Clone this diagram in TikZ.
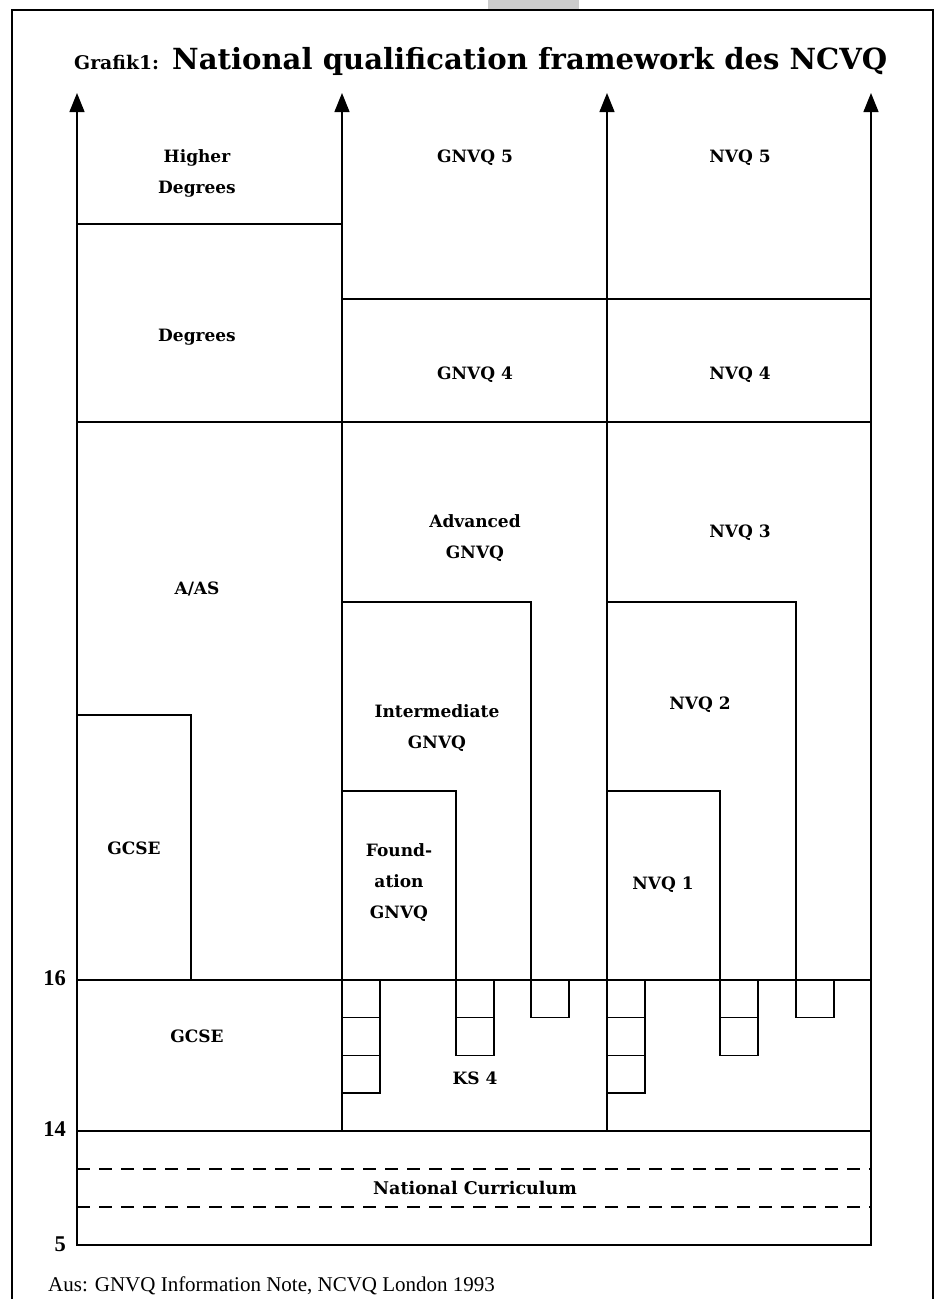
\documentclass[tikz,border=0pt]{standalone}
\usepackage{fontspec}
\setmainfont{Liberation Serif}
\newfontfamily\lblfont{DejaVu Serif}
\usetikzlibrary{arrows.meta}
\tikzset{
  ln/.style={line width=1.3pt, line cap=rect},
  thickline/.style={line width=2.2pt},
  axis/.style={line width=1.3pt, -{Triangle[length=19pt,width=15pt]}},
  dashline/.style={line width=1.3pt, dash pattern=on 13pt off 9pt},
  lbl/.style={font=\lblfont\fontsize{17}{31}\selectfont\bfseries, align=center, inner sep=0pt},
  num/.style={font=\fontsize{22.5}{25}\selectfont\bfseries, anchor=east, inner sep=0pt},
  sq/.style={line width=1.3pt}
}
\begin{document}
\begin{tikzpicture}[x=1pt,y=-1pt]
\useasboundingbox (0,0) rectangle (939,1299);
% frame and tab
\fill[black!20] (488,0) rectangle (579,9.5);
\draw[line width=1.5pt] (12,1299) -- (12,10) -- (933,10) -- (933,1299);
% title
\node[inner sep=0pt, anchor=base west] (tpre) at (74,69)
  {\lblfont\bfseries\fontsize{18.8}{22}\selectfont Grafik1:};
\node[inner sep=0pt, anchor=base west] (title) at (172,69)
  {\lblfont\bfseries\fontsize{29.1}{33}\selectfont National qualification framework des NCVQ};
% coordinates
\coordinate (a1b) at (77,1245);  \coordinate (a1t) at (77,93);
\coordinate (a2b) at (342,1131); \coordinate (a2t) at (342,93);
\coordinate (a3b) at (607,1131); \coordinate (a3t) at (607,93);
\coordinate (a4b) at (871,1245); \coordinate (a4t) at (871,93);
\draw[axis] (a1b) -- (a1t);
\draw[axis] (a2b) -- (a2t);
\draw[axis] (a3b) -- (a3t);
\draw[axis] (a4b) -- (a4t);
% horizontal divisions
\draw[ln] (77,224) -- (342,224);
\draw[ln] (342,299) -- (871,299);
\draw[ln] (77,422) -- (871,422);
\draw[ln] (342,602) -- (531,602) -- (531,980);
\draw[ln] (607,602) -- (796,602) -- (796,980);
\draw[ln] (77,715) -- (191,715) -- (191,980);
\draw[ln] (342,791) -- (456,791) -- (456,980);
\draw[ln] (607,791) -- (720,791) -- (720,980);
\draw[thickline] (77,980) -- (871,980);
\draw[ln] (77,1131) -- (871,1131);
\draw[dashline] (77,1169) -- (871,1169);
\draw[dashline] (77,1207) -- (871,1207);
\draw[ln] (77,1245) -- (871,1245);
% small squares
\foreach \x/\n in {342/3,456/2,531/1,607/3,720/2,796/1}{
  \foreach \i in {1,...,\n}{
    \draw[sq] (\x,{980+37.7*(\i-1)}) rectangle ({\x+38},{980+37.7*\i});
  }
}
% labels
\node[lbl] (hd) at (197,173) {Higher\\Degrees};
\node[lbl] (g5) at (475,158) {GNVQ 5};
\node[lbl] (n5) at (740,158) {NVQ 5};
\node[lbl] (deg) at (197,337) {Degrees};
\node[lbl] (g4) at (475,375) {GNVQ 4};
\node[lbl] (n4) at (740,375) {NVQ 4};
\node[lbl] (adv) at (475,538) {Advanced\\GNVQ};
\node[lbl] (n3) at (740,533) {NVQ 3};
\node[lbl] (aas) at (197,589) {A/AS};
\node[lbl] (int) at (437,728) {Intermediate\\GNVQ};
\node[lbl] (n2) at (700,705) {NVQ 2};
\node[lbl] (gcse1) at (134,848) {GCSE};
\node[lbl] (fnd) at (399,883) {Found-\\ation\\GNVQ};
\node[lbl] (n1) at (663,885) {NVQ 1};
\node[lbl] (gcse2) at (197,1036) {GCSE};
\node[lbl] (ks4) at (475,1078) {KS 4};
\node[lbl, font=\lblfont\fontsize{17.5}{31}\selectfont\bfseries] (nc) at (475,1188) {National Curriculum};
\node[num] (n16) at (66,978) {16};
\node[num] (n14) at (66,1129) {14};
\node[num] (n5l) at (66,1244) {5};
\node[inner sep=0pt, anchor=west] (src) at (48,1286)
  {\fontsize{21}{24}\selectfont Aus: GNVQ Information Note, NCVQ London 1993};
\end{tikzpicture}
\end{document}
